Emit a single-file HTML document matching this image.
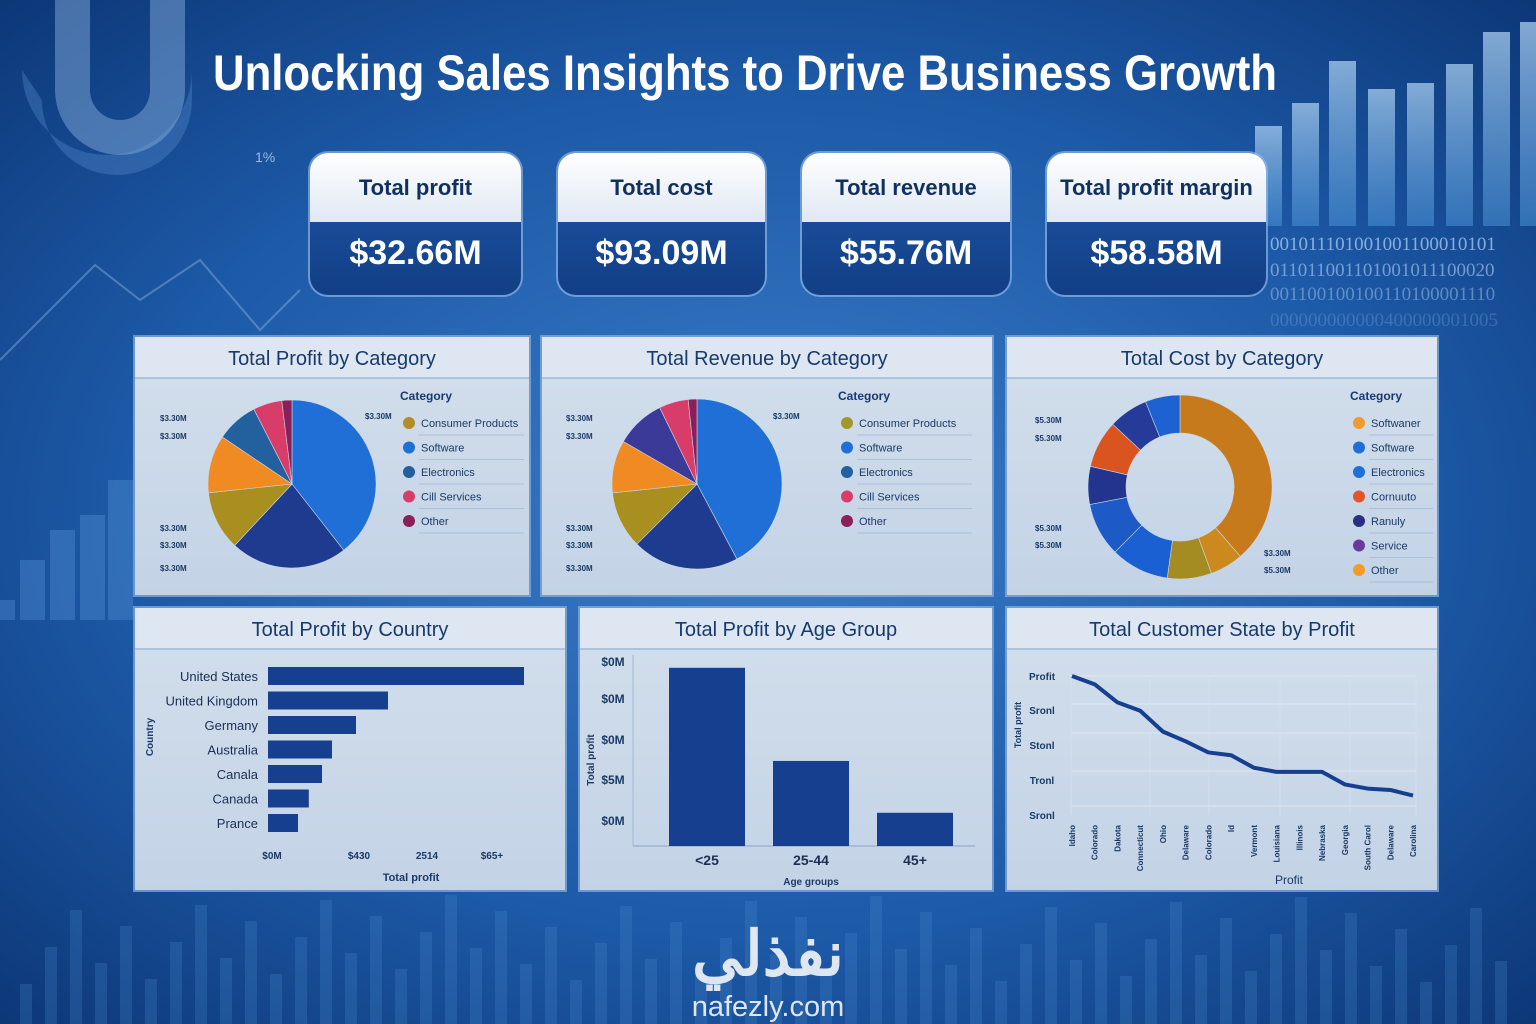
<!DOCTYPE html>
<html><head><meta charset="utf-8">
<style>
html,body{margin:0;padding:0;width:1536px;height:1024px;overflow:hidden;background:#0b3a78;}
svg{display:block;font-family:"Liberation Sans",sans-serif;}
</style></head>
<body>
<svg id="root" width="1536" height="1024" viewBox="0 0 1536 1024">
<defs>
<radialGradient id="bg" cx="0.5" cy="0.5" r="0.75">
<stop offset="0" stop-color="#3a7cc8"/><stop offset="0.55" stop-color="#1d5aa8"/><stop offset="1" stop-color="#0a3270"/>
</radialGradient>
<linearGradient id="cardTop" x1="0" y1="0" x2="0" y2="1"><stop offset="0" stop-color="#ffffff"/><stop offset="1" stop-color="#dfe8f3"/></linearGradient>
<linearGradient id="cardBot" x1="0" y1="0" x2="0" y2="1"><stop offset="0" stop-color="#1f57a8"/><stop offset="1" stop-color="#123f86"/></linearGradient>
<linearGradient id="decoBar" x1="0" y1="0" x2="0" y2="1"><stop offset="0" stop-color="#a9cdee" stop-opacity="0.75"/><stop offset="1" stop-color="#4a92d6" stop-opacity="0.55"/></linearGradient>
<linearGradient id="panelBg" x1="0" y1="0" x2="0" y2="1"><stop offset="0" stop-color="#d3dfec"/><stop offset="1" stop-color="#c3d3e6"/></linearGradient>
</defs>
<rect width="1536" height="1024" fill="url(#bg)"/>
<g id="deco" opacity="0.9">
<path d="M22 70 A85 85 0 0 0 192 70 L192 100 A 75 75 0 0 1 42 100 Z" fill="#5b8fcf" opacity="0.4"/>
<path d="M90 0 L90 90 A30 30 0 0 0 150 90 L150 0 L185 0 L185 90 A65 65 0 0 1 55 90 L55 0 Z" fill="#8fb6e2" opacity="0.5"/>
<polyline points="0,360 40,320 95,265 140,300 200,260 260,330 300,290" fill="none" stroke="#8fb6e2" stroke-width="2" opacity="0.5"/>
<text x="255" y="162" font-size="14" fill="#a9c7ea">1%</text>
</g>
<g id="decoBars"></g>
<g font-family="Liberation Serif, serif" font-size="19" fill="#a5c6ee">
<text x="1270" y="250" opacity="0.8">001011101001001100010101</text>
<text x="1270" y="276" opacity="0.65">011011001101001011100020</text>
<text x="1270" y="300" opacity="0.5">001100100100110100001110</text>
<text x="1270" y="326" opacity="0.25">000000000000400000001005</text>
</g>

<text x="745" y="90" text-anchor="middle" font-size="50" font-weight="bold" fill="#ffffff" textLength="1064" lengthAdjust="spacingAndGlyphs">Unlocking Sales Insights to Drive Business Growth</text>

<g id="cards"></g>
<g id="panels"></g>

<g>
<text x="768" y="975" text-anchor="middle" font-family="'Liberation Sans','Noto Sans CJK SC',sans-serif" font-size="62" font-weight="bold" fill="#ffffff" opacity="0.85">نفذلي</text>
<text x="768" y="1016" text-anchor="middle" font-size="29" fill="#ffffff" opacity="0.85">nafezly.com</text>
</g>
</svg>
<script>
// ---- Data ----
const kpiTitles = ["Total profit","Total cost","Total revenue","Total profit margin"];
const kpiValues = ["$32.66M","$93.09M","$55.76M","$58.58M"];

const profitCatValues = [142,81,41,40,29,20,7];
const profitCatColors = ["#1f6fd6","#1e3b8f","#a88f1f","#f08a22","#23609e","#d83d6a","#8a1f5a"];
const profitLegend = ["Consumer Products","Software","Electronics","Cill Services","Other"];
const profitLegendColors = ["#b68d22","#1f6fd6","#23609e","#d83d6a","#8a1f5a"];

const revenueCatValues = [152,73,39,36,34,20,6];
const revenueCatColors = ["#1f6fd6","#1e3b8f","#a88f1f","#f08a22","#3b3a98","#d83d6a","#8a1f5a"];
const revenueLegend = ["Consumer Products","Software","Electronics","Cill Services","Other"];
const revenueLegendColors = ["#a3972a","#1f6fd6","#23609e","#d83d6a","#8a1f5a"];

const costCatValues = [139,21,28,37,34,24,30,25,22];
const costCatColors = ["#c67a1c","#cc8a1e","#a58c22","#1a60d2","#1d5ac8","#22348e","#d9541e","#263a9a","#1d62d0"];
const costLegend = ["Softwaner","Software","Electronics","Cornuuto","Ranuly","Service","Other"];
const costLegendColors = ["#f29a2c","#1f6fd6","#1f6fd6","#e0552a","#2a2f86","#6a3a9a","#f29a2c"];

const countryNames = ["United States","United Kingdom","Germany","Australia","Canala","Canada","Prance"];
const countryValues = [32,15,11,8,6.75,5.1,3.75];
const countryTicks = ["$0M","$430","2514","$65+"];

const ageGroups = ["<25","25-44","45+"];
const ageValues = [22,10.5,4.1];
const ageTicks = ["$0M","$0M","$0M","$5M","$0M"];

const stateNames = ["Idaho","Colorado","Dakota","Connecticut","Ohio","Delaware","Colorado","Id","Vermont","Louisiana","Illinois","Nebraska","Georgia","South Carol","Delaware","Carolina"];
const stateValues = [100,94,81,75,60,53,45,43,34,31,31,31,22,19,18,14];
const stateTicks = ["Profit","Sronl","Stonl","Tronl","Sronl"];

// ---- helpers ----
const NS="http://www.w3.org/2000/svg";
function mk(tag,attrs,parent,text){const e=document.createElementNS(NS,tag);for(const k in attrs)e.setAttribute(k,attrs[k]);if(text!==undefined)e.textContent=text;parent.appendChild(e);return e;}

const deco=document.getElementById('decoBars');
[[1255,126],[1292,103],[1329,61],[1368,89],[1407,83],[1446,64],[1483,32],[1520,22]].forEach(function(b){
  const r=mk('rect',{x:b[0],y:b[1],width:27,height:226-b[1],fill:'url(#decoBar)'},deco);
  
  
});
[[20,560,25],[50,530,25],[80,515,25],[108,480,25],[0,600,15]].forEach(function(b){
  const r=mk('rect',{x:b[0],y:b[1],width:b[2],height:600-b[1]+20,fill:'#4d8ad0',opacity:0.45},deco);
  
  
});
for(let i=0;i<60;i++){
  const x=20+i*25, h=40+((i*37)%90);
  const r=mk('rect',{x:x,y:1024-h,width:12,height:h,fill:'#4d8ad0',opacity:0.25},deco);
  
  
}

// ---- KPI cards ----
const cardsG=document.getElementById('cards');
const cardX=[310,558,802,1047], cardW=[211,207,208,219];
kpiTitles.forEach(function(t,i){
  const g=mk('g',{},cardsG);
  
  
  const x=cardX[i],w=cardW[i],y=153,h=142;
  mk('rect',{x:x-2,y:y-2,width:w+4,height:h+4,rx:20,fill:'#9cc2ee',opacity:0.6},g);
  mk('rect',{x:x,y:y,width:w,height:h,rx:18,fill:'url(#cardBot)'},g);
  mk('path',{d:`M${x} ${y+18} A18 18 0 0 1 ${x+18} ${y} L${x+w-18} ${y} A18 18 0 0 1 ${x+w} ${y+18} L${x+w} ${y+69} L${x} ${y+69} Z`,fill:'url(#cardTop)'},g);
  const tt=mk('text',{x:x+w/2,y:y+42,'text-anchor':'middle','font-size':22,'font-weight':'bold',fill:'#12305f'},g,t);
  
  
  const tv=mk('text',{x:x+w/2,y:y+111,'text-anchor':'middle','font-size':34,'font-weight':'bold',fill:'#ffffff'},g,kpiValues[i]);
  
  
});

// ---- panels ----
const panelsG=document.getElementById('panels');
function panel(name,title,x,y,w,h){
  const g=mk('g',{},panelsG);
  
  
  mk('rect',{x:x-2,y:y-2,width:w+4,height:h+4,fill:'#8fb2dc',opacity:0.7},g);
  mk('rect',{x:x,y:y,width:w,height:h,fill:'url(#panelBg)'},g);
  mk('rect',{x:x,y:y,width:w,height:41,fill:'#dde6f1'},g);
  mk('line',{x1:x,y1:y+41,x2:x+w,y2:y+41,stroke:'#9fb8d6','stroke-width':1.5},g);
  const t=mk('text',{x:x+w/2,y:y+28,'text-anchor':'middle','font-size':20,fill:'#163a6e'},g,title);
  
  
  return g;
}
function pie(g,cx,cy,r,ri,values,colors){
  const total=values.reduce((a,b)=>a+b,0);
  let a0=0;
  values.forEach(function(v,i){
    const a1=a0+v/total*Math.PI*2;
    const p=(a,rr)=>[cx+rr*Math.sin(a),cy-rr*Math.cos(a)];
    const large=(a1-a0)>Math.PI?1:0;
    const [x0,y0]=p(a0,r),[x1,y1]=p(a1,r);
    let d;
    if(ri>0){const [x2,y2]=p(a1,ri),[x3,y3]=p(a0,ri);
      d=`M${x0} ${y0} A${r} ${r} 0 ${large} 1 ${x1} ${y1} L${x2} ${y2} A${ri} ${ri} 0 ${large} 0 ${x3} ${y3} Z`;}
    else d=`M${cx} ${cy} L${x0} ${y0} A${r} ${r} 0 ${large} 1 ${x1} ${y1} Z`;
    const s=mk('path',{d:d,fill:colors[i],stroke:'#c9d8ea','stroke-width':0.6},g);
    
    
    a0=a1;
  });
}
function legend(g,x,y,items,colors,len){
  const t=mk('text',{x:x-9,y:y,'font-size':12,'font-weight':'bold',fill:'#163a6e'},g,'Category');
  
  
  items.forEach(function(it,i){
    const yy=y+23+i*24.5;
    mk('line',{x1:x+10,y1:yy+12,x2:x+len,y2:yy+12,stroke:'#aabfd8','stroke-width':1},g);
    const c=mk('circle',{cx:x,cy:yy,r:6,fill:colors[i]},g);
    
    
    const l=mk('text',{x:x+12,y:yy+4,'font-size':11,fill:'#1b3a66'},g,it);
    
    
  });
}
function sideLabels(g,x,labels,ys){
  labels.forEach(function(l,i){
    mk('text',{x:x,y:ys[i],'font-size':8,'font-weight':'bold',fill:'#1b3a66'},g,l);
  });
}

// Panel 1
let g=panel('profit-by-category-panel','Total Profit by Category',135,337,394,258);
pie(g,292,484,84,0,profitCatValues,profitCatColors);
legend(g,409,400,profitLegend,profitLegendColors,115);
sideLabels(g,160,['$3.30M','$3.30M','$3.30M','$3.30M','$3.30M'],[421,439,531,548,571]);
mk('text',{x:365,y:419,'font-size':8,'font-weight':'bold',fill:'#1b3a66'},g,'$3.30M');

// Panel 2
g=panel('revenue-by-category-panel','Total Revenue by Category',542,337,450,258);
pie(g,697,484,85,0,revenueCatValues,revenueCatColors);
legend(g,847,400,revenueLegend,revenueLegendColors,125);
sideLabels(g,566,['$3.30M','$3.30M','$3.30M','$3.30M','$3.30M'],[421,439,531,548,571]);
mk('text',{x:773,y:419,'font-size':8,'font-weight':'bold',fill:'#1b3a66'},g,'$3.30M');

// Panel 3
g=panel('cost-by-category-panel','Total Cost by Category',1007,337,430,258);
pie(g,1180,487,92,54,costCatValues,costCatColors);
legend(g,1359,400,costLegend,costLegendColors,74);
sideLabels(g,1035,['$5.30M','$5.30M','$5.30M','$5.30M'],[423,441,531,548]);
mk('text',{x:1264,y:556,'font-size':8,'font-weight':'bold',fill:'#1b3a66'},g,'$3.30M');
mk('text',{x:1264,y:573,'font-size':8,'font-weight':'bold',fill:'#1b3a66'},g,'$5.30M');

// Panel 4
g=panel('profit-by-country-panel','Total Profit by Country',135,608,430,282);
const bx0=268, bxK=8;
const xC=v=>bx0+v*bxK;
countryNames.forEach(function(n,i){
  const y=676+i*24.5;
  const b=mk('rect',{x:bx0,y:y-9,width:xC(countryValues[i])-bx0,height:18,fill:'#173f8f'},g);
  
  
  mk('text',{x:258,y:y+5,'text-anchor':'end','font-size':13,fill:'#1b2f55'},g,n);
});
[272,359,427,492].forEach(function(x,i){ mk('text',{x:x,y:859,'text-anchor':'middle','font-size':10,'font-weight':'bold',fill:'#1b3a66'},g,countryTicks[i]); });
mk('text',{x:411,y:881,'text-anchor':'middle','font-size':11,'font-weight':'bold',fill:'#1b3a66'},g,'Total profit');
mk('text',{x:153,y:737,'text-anchor':'middle','font-size':10,'font-weight':'bold',fill:'#1b3a66',transform:'rotate(-90 153 737)'},g,'Country');

// Panel 5
g=panel('profit-by-age-group-panel','Total Profit by Age Group',580,608,412,282);
const ay0=846, ayK=8.1;
const yA=v=>ay0-v*ayK;
mk('line',{x1:633,y1:655,x2:633,y2:846,stroke:'#9fb8d6'},g);
mk('line',{x1:633,y1:846,x2:975,y2:846,stroke:'#8aa3c4'},g);
[662,699,740,780,821].forEach(function(y,i){ mk('text',{x:613,y:y+4,'text-anchor':'middle','font-size':12,'font-weight':'bold',fill:'#1b3a66'},g,ageTicks[i]); });
ageGroups.forEach(function(a,i){
  const x=669+i*104;
  const b=mk('rect',{x:x,y:yA(ageValues[i]),width:76,height:ay0-yA(ageValues[i]),fill:'#173f8f'},g);
  
  
  mk('text',{x:x+38,y:865,'text-anchor':'middle','font-size':14,'font-weight':'bold',fill:'#1b2f55'},g,a);
});
mk('text',{x:811,y:885,'text-anchor':'middle','font-size':10,'font-weight':'bold',fill:'#1b3a66'},g,'Age groups');
mk('text',{x:594,y:760,'text-anchor':'middle','font-size':10,'font-weight':'bold',fill:'#1b3a66',transform:'rotate(-90 594 760)'},g,'Total profit');

// Panel 6
g=panel('customer-state-by-profit-panel','Total Customer State by Profit',1007,608,430,282);
const lx0=1072, lx1=1413, ly0=815, lyK=1.39;
const xL=i=>lx0+i*(lx1-lx0)/(stateValues.length-1);
const yL=v=>ly0-v*lyK;
[676,704,733,771,806].forEach(function(y){ mk('line',{x1:1071,y1:y,x2:1416,y2:y,stroke:'#dfe8f3','stroke-width':1},g); });
[1071,1150,1209,1280,1350,1416].forEach(function(x){ mk('line',{x1:x,y1:676,x2:x,y2:815,stroke:'#d3dfec','stroke-width':1},g); });
[676,710,745,780,815].forEach(function(y,i){ mk('text',{x:1042,y:y+4,'text-anchor':'middle','font-size':10,'font-weight':'bold',fill:'#1b3a66'},g,stateTicks[i]); });
const pts=stateValues.map((v,i)=>xL(i)+','+yL(v)).join(' ');
const ln=mk('polyline',{points:pts,fill:'none',stroke:'#173f8f','stroke-width':4,'stroke-linejoin':'round'},g);


stateNames.forEach(function(n,i){
  const x=xL(i)+3;
  mk('text',{x:x,y:825,'text-anchor':'end','font-size':8,'font-weight':'bold',fill:'#1b3a66',transform:`rotate(-90 ${x} 825)`},g,n);
});
mk('text',{x:1289,y:884,'text-anchor':'middle','font-size':12,fill:'#1b3a66'},g,'Profit');
mk('text',{x:1021,y:725,'text-anchor':'middle','font-size':9,'font-weight':'bold',fill:'#1b3a66',transform:'rotate(-90 1021 725)'},g,'Total profit');
</script>
</body></html>
